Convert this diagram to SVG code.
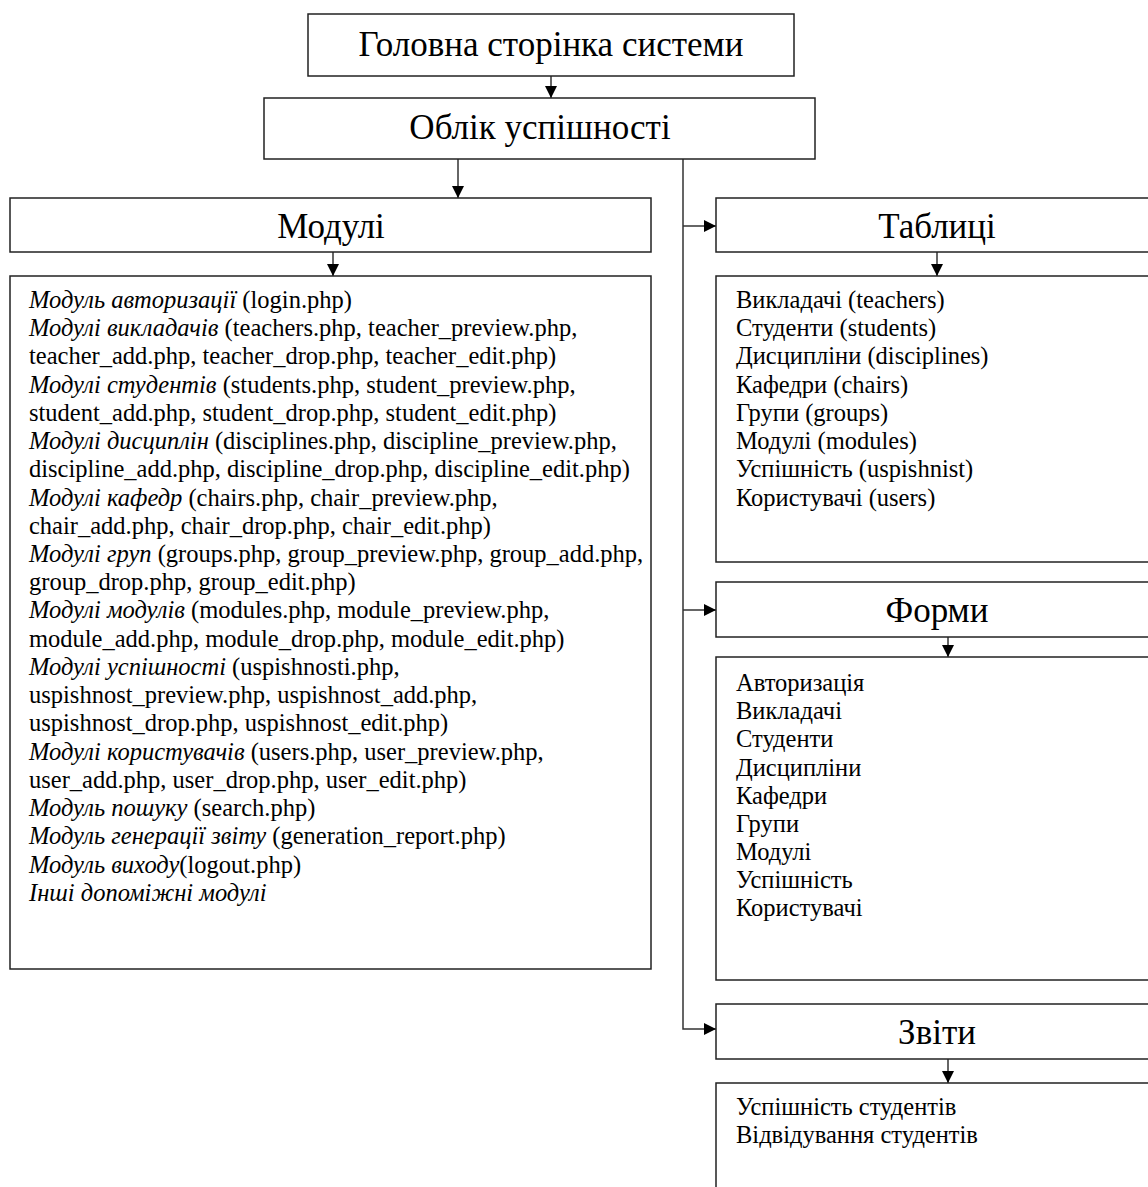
<svg xmlns="http://www.w3.org/2000/svg" width="1148" height="1187" viewBox="0 0 1148 1187">
  <defs>
    <marker id="arrow" viewBox="0 0 12 12" refX="12" refY="6" markerWidth="12" markerHeight="12" markerUnits="userSpaceOnUse" orient="auto">
      <path d="M0,0 L12,6 L0,12 z" fill="#000"/>
    </marker>
    <style>
      .box { fill: #fff; stroke: #222; stroke-width: 1.5; }
      .conn { fill: none; stroke: #333; stroke-width: 1.5; }
      .title { font-family: "Liberation Serif", "Times New Roman", serif; font-size: 35px; fill: #000; text-anchor: middle; }
      .item { font-family: "Liberation Serif", "Times New Roman", serif; font-size: 24.5px; fill: #000; }
      .it { font-style: italic; }
    </style>
  </defs>
  <rect width="1148" height="1187" fill="#fff"/>

  <!-- connectors -->
  <g id="connectors">
    <line class="conn" x1="551" y1="76" x2="551" y2="98" marker-end="url(#arrow)"/>
    <line class="conn" x1="458" y1="159" x2="458" y2="198" marker-end="url(#arrow)"/>
    <line class="conn" x1="333" y1="252" x2="333" y2="276" marker-end="url(#arrow)"/>
    <polyline class="conn" points="683,159 683,1029 716,1029" marker-end="url(#arrow)"/>
    <line class="conn" x1="683" y1="226" x2="716" y2="226" marker-end="url(#arrow)"/>
    <line class="conn" x1="683" y1="610" x2="716" y2="610" marker-end="url(#arrow)"/>
    <line class="conn" x1="937" y1="252" x2="937" y2="276" marker-end="url(#arrow)"/>
    <line class="conn" x1="948" y1="637" x2="948" y2="657" marker-end="url(#arrow)"/>
    <line class="conn" x1="948" y1="1059" x2="948" y2="1083" marker-end="url(#arrow)"/>
  </g>

  <g id="home">
    <rect class="box" x="308" y="14" width="486" height="62"/>
    <text class="title" x="551" y="56">Головна сторінка системи</text>
  </g>

  <g id="grades">
    <rect class="box" x="264" y="98" width="551" height="61"/>
    <text class="title" x="540" y="139">Облік успішності</text>
  </g>

  <g id="modules">
    <rect class="box" x="10" y="198" width="641" height="54"/>
    <text class="title" x="331" y="238">Модулі</text>
  </g>

  <g id="modules-list">
    <rect class="box" x="10" y="276" width="641" height="693"/>
    <text class="item" x="29">
      <tspan x="29" y="308"><tspan class="it">Модуль авторизації</tspan> (login.php)</tspan>
      <tspan x="29" y="336"><tspan class="it">Модулі викладачів</tspan> (teachers.php, teacher_preview.php,</tspan>
      <tspan x="29" y="364">teacher_add.php, teacher_drop.php, teacher_edit.php)</tspan>
      <tspan x="29" y="393"><tspan class="it">Модулі студентів</tspan> (students.php, student_preview.php,</tspan>
      <tspan x="29" y="421">student_add.php, student_drop.php, student_edit.php)</tspan>
      <tspan x="29" y="449"><tspan class="it">Модулі дисциплін</tspan> (disciplines.php, discipline_preview.php,</tspan>
      <tspan x="29" y="477">discipline_add.php, discipline_drop.php, discipline_edit.php)</tspan>
      <tspan x="29" y="506"><tspan class="it">Модулі кафедр</tspan> (chairs.php, chair_preview.php,</tspan>
      <tspan x="29" y="534">chair_add.php, chair_drop.php, chair_edit.php)</tspan>
      <tspan x="29" y="562"><tspan class="it">Модулі груп</tspan> (groups.php, group_preview.php, group_add.php,</tspan>
      <tspan x="29" y="590">group_drop.php, group_edit.php)</tspan>
      <tspan x="29" y="618"><tspan class="it">Модулі модулів</tspan> (modules.php, module_preview.php,</tspan>
      <tspan x="29" y="647">module_add.php, module_drop.php, module_edit.php)</tspan>
      <tspan x="29" y="675"><tspan class="it">Модулі успішності</tspan> (uspishnosti.php,</tspan>
      <tspan x="29" y="703">uspishnost_preview.php, uspishnost_add.php,</tspan>
      <tspan x="29" y="731">uspishnost_drop.php, uspishnost_edit.php)</tspan>
      <tspan x="29" y="760"><tspan class="it">Модулі користувачів</tspan> (users.php, user_preview.php,</tspan>
      <tspan x="29" y="788">user_add.php, user_drop.php, user_edit.php)</tspan>
      <tspan x="29" y="816"><tspan class="it">Модуль пошуку</tspan> (search.php)</tspan>
      <tspan x="29" y="844"><tspan class="it">Модуль генерації звіту</tspan> (generation_report.php)</tspan>
      <tspan x="29" y="873"><tspan class="it">Модуль виходу</tspan>(logout.php)</tspan>
      <tspan x="29" y="901" class="it">Інші допоміжні модулі</tspan>
    </text>
  </g>

  <g id="tables">
    <rect class="box" x="716" y="198" width="440" height="54"/>
    <text class="title" x="937" y="238">Таблиці</text>
  </g>

  <g id="tables-list">
    <rect class="box" x="716" y="276" width="440" height="286"/>
    <text class="item">
      <tspan x="736" y="308">Викладачі (teachers)</tspan>
      <tspan x="736" y="336">Студенти (students)</tspan>
      <tspan x="736" y="364">Дисципліни (disciplines)</tspan>
      <tspan x="736" y="393">Кафедри (chairs)</tspan>
      <tspan x="736" y="421">Групи (groups)</tspan>
      <tspan x="736" y="449">Модулі (modules)</tspan>
      <tspan x="736" y="477">Успішність (uspishnist)</tspan>
      <tspan x="736" y="506">Користувачі (users)</tspan>
    </text>
  </g>

  <g id="forms">
    <rect class="box" x="716" y="582" width="440" height="55"/>
    <text class="title" x="937" y="622">Форми</text>
  </g>

  <g id="forms-list">
    <rect class="box" x="716" y="657" width="440" height="323"/>
    <text class="item">
      <tspan x="736" y="691">Авторизація</tspan>
      <tspan x="736" y="719">Викладачі</tspan>
      <tspan x="736" y="747">Студенти</tspan>
      <tspan x="736" y="776">Дисципліни</tspan>
      <tspan x="736" y="804">Кафедри</tspan>
      <tspan x="736" y="832">Групи</tspan>
      <tspan x="736" y="860">Модулі</tspan>
      <tspan x="736" y="888">Успішність</tspan>
      <tspan x="736" y="916">Користувачі</tspan>
    </text>
  </g>

  <g id="reports">
    <rect class="box" x="716" y="1004" width="440" height="55"/>
    <text class="title" x="937" y="1044">Звіти</text>
  </g>

  <g id="reports-list">
    <rect class="box" x="716" y="1083" width="440" height="120"/>
    <text class="item">
      <tspan x="736" y="1115">Успішність студентів</tspan>
      <tspan x="736" y="1143">Відвідування студентів</tspan>
    </text>
  </g>
</svg>
